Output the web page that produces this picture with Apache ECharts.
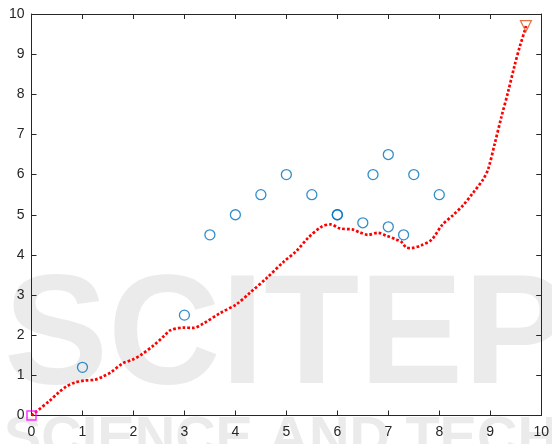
<!DOCTYPE html>
<html>
<head>
<meta charset="utf-8">
<script src="https://cdn.jsdelivr.net/npm/echarts@6/dist/echarts.min.js"></script>
<style>
  html, body { margin: 0; padding: 0; background: #fff; }
  #chart { width: 552px; height: 444px; }
</style>
</head>
<body>
<div id="chart"></div>
<script>
// Estimated trajectory (red dotted path)
const pathX = [0, 0.34, 0.53, 0.68, 0.85, 1.04, 1.24, 1.40, 1.56, 1.79, 1.98, 2.15, 2.40, 2.60, 2.72, 2.98, 3.17, 3.37, 3.70, 4.02, 4.28, 4.61, 4.94, 5.20, 5.43, 5.69, 5.87, 6.05, 6.31, 6.44, 6.60, 6.80, 6.96, 7.16, 7.26, 7.36, 7.45, 7.65, 7.85, 8.06, 8.27, 8.47, 8.66, 8.86, 8.96, 9.09, 9.22, 9.35, 9.48, 9.58, 9.68, 9.70];
const pathY = [0, 0.35, 0.57, 0.72, 0.82, 0.87, 0.89, 0.97, 1.08, 1.30, 1.39, 1.51, 1.75, 1.98, 2.12, 2.19, 2.18, 2.29, 2.55, 2.77, 3.05, 3.42, 3.82, 4.10, 4.43, 4.70, 4.76, 4.66, 4.63, 4.56, 4.50, 4.55, 4.48, 4.38, 4.32, 4.18, 4.17, 4.24, 4.38, 4.75, 4.99, 5.24, 5.54, 5.88, 6.14, 6.78, 7.44, 8.06, 8.73, 9.19, 9.60, 9.70];

// Obstacle / measurement points (blue circles)
const pointX = [1, 3, 3.5, 4, 4.5, 5, 5.5, 6, 6, 6.5, 6.7, 7, 7, 7.3, 7.5, 8];
const pointY = [1.2, 2.5, 4.5, 5, 5.5, 6, 5.5, 5, 5, 4.8, 6, 6.5, 4.7, 4.5, 6, 5.5];

// Start and goal
const startPt = [0, 0];
const goalPt = [9.7, 9.7];

// Axis ticks
const axisMin = 0, axisMax = 10, axisStep = 1;

const zip = (xs, ys) => xs.map((x, i) => [x, ys[i]]);

const textColor = '#262626';
const fontFamily = '"Liberation Sans", Arial, sans-serif';

const axisCommon = {
  type: 'value',
  min: axisMin,
  max: axisMax,
  interval: axisStep,
  splitLine: { show: false },
  axisLine: { show: true, onZero: false, lineStyle: { color: textColor, width: 1 } },
  axisTick: { show: true, inside: true, length: 5, lineStyle: { color: textColor, width: 1 } }
};

const chart = echarts.init(document.getElementById('chart'), null, { renderer: 'canvas' });

chart.setOption({
  animation: false,
  backgroundColor: '#ffffff',
  graphic: [
    {
      type: 'text', z: -10, left: 4, top: 262, silent: true,
      style: { text: 'SCITEPRESS', fill: '#ebebeb', font: 'bold 156px "Liberation Sans", Arial, sans-serif' }
    },
    {
      type: 'text', z: -10, left: 4, top: 412, silent: true,
      style: { text: 'SCIENCE AND TECHNOLOGY PUBLICATIONS', fill: '#ebebeb', font: 'bold 56px "Liberation Sans", Arial, sans-serif' }
    }
  ],
  grid: { left: 31.5, right: 10.5, top: 14, bottom: 28.5, containLabel: false },
  xAxis: [
    Object.assign({}, axisCommon, {
      position: 'bottom',
      axisLabel: { color: textColor, fontSize: 14, fontFamily: fontFamily, margin: 10 }
    }),
    Object.assign({}, axisCommon, {
      position: 'top',
      axisLabel: { show: false }
    })
  ],
  yAxis: [
    Object.assign({}, axisCommon, {
      position: 'left',
      axisLabel: { color: textColor, fontSize: 14, fontFamily: fontFamily, margin: 7 }
    }),
    Object.assign({}, axisCommon, {
      position: 'right',
      axisLabel: { show: false }
    })
  ],
  series: [
    {
      type: 'line',
      data: zip(pathX, pathY),
      smooth: 0.3,
      showSymbol: false,
      silent: true,
      z: 3,
      lineStyle: { color: '#ff0000', width: 2.7, type: [2.7, 2.0] }
    },
    {
      type: 'scatter',
      data: zip(pointX, pointY),
      symbol: 'circle',
      symbolSize: 10,
      silent: true,
      z: 4,
      itemStyle: { color: 'rgba(0,0,0,0)', borderColor: '#0072BD', borderWidth: 1.3 }
    },
    {
      type: 'scatter',
      data: [startPt],
      symbol: 'rect',
      symbolSize: 9,
      silent: true,
      clip: false,
      z: 6,
      zlevel: 1,
      itemStyle: { color: 'rgba(0,0,0,0)', borderColor: '#ff00ff', borderWidth: 1.5 }
    },
    {
      type: 'scatter',
      data: [goalPt],
      symbol: 'triangle',
      symbolRotate: 180,
      symbolSize: 11,
      silent: true,
      z: 5,
      itemStyle: { color: 'rgba(0,0,0,0)', borderColor: '#D95319', borderWidth: 1.2 }
    }
  ]
});
</script>
</body>
</html>
